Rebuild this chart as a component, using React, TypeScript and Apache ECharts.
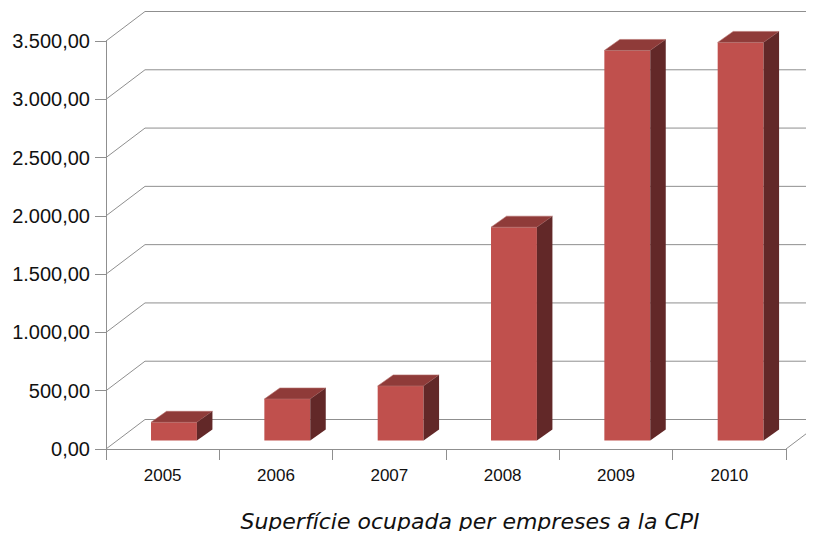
import React, { useEffect, useRef } from "react";
import * as echarts from "echarts";

const categories = ["2005", "2006", "2007", "2008", "2009", "2010"];
const values = [156, 356, 468, 1830, 3346, 3415];
const yTicks = [0, 500, 1000, 1500, 2000, 2500, 3000, 3500];
const titleText = "Superfície ocupada per empreses a la CPI";

const WALL_DX = 39;
const WALL_DY = 29.5;
const BAR_DX = 11.3;
const BAR_DY = 8.5;
const DEPTH_DX = 15.5;
const DEPTH_DY = 11;
const GRID_COLOR = "#8f8f8f";

function fmt(v: number): string {
  const s = Math.round(v).toString().replace(/\B(?=(\d{3})+(?!\d))/g, ".");
  return s + ",00";
}

export default function App() {
  const ref = useRef<HTMLDivElement>(null);
  useEffect(() => {
    if (!ref.current) return;
    const chart = echarts.init(ref.current, null, { renderer: "svg" });
    chart.setOption({
      animation: false,
      backgroundColor: "#ffffff",
      grid: { left: 106, right: 28, top: 41, bottom: 90 },
      xAxis: {
        type: "category",
        data: categories,
        axisLine: { show: true, lineStyle: { color: GRID_COLOR, width: 1 } },
        axisTick: { show: true, length: 11, lineStyle: { color: GRID_COLOR } },
        axisLabel: {
          color: "#111",
          fontSize: 17,
          fontFamily: "Liberation Sans",
          margin: 18,
        },
        splitLine: { show: false },
      },
      yAxis: {
        type: "value",
        min: 0,
        max: 3500,
        interval: 500,
        axisLine: { show: true, lineStyle: { color: GRID_COLOR, width: 1 } },
        axisTick: { show: true, length: 11, lineStyle: { color: GRID_COLOR } },
        axisLabel: {
          color: "#111",
          fontSize: 20,
          fontFamily: "Liberation Sans",
          margin: 16,
          formatter: (v: number) => fmt(v),
        },
        splitLine: { show: false },
      },
      title: {
        text: titleText,
        left: 470,
        textAlign: "center",
        top: 510,
        padding: 0,
        textStyle: {
          fontSize: 22,
          fontStyle: "italic",
          fontWeight: "normal",
          fontFamily: "DejaVu Sans",
          color: "#111",
        },
      },
      series: [
        {
          type: "custom",
          z: 1,
          silent: true,
          data: yTicks.map((t) => [0, t]),
          renderItem: (params: any, api: any) => {
            const cs = params.coordSys;
            const v = api.value(1);
            const y = api.coord([0, v])[1];
            const x0 = cs.x;
            const x1 = cs.x + cs.width;
            const children: any[] = [
              {
                type: "polyline",
                shape: {
                  points: [
                    [x0, y],
                    [x0 + WALL_DX, y - WALL_DY],
                    [x1 + WALL_DX, y - WALL_DY],
                  ],
                },
                style: { stroke: GRID_COLOR, fill: "none", lineWidth: 1 },
              },
            ];
            if (v === 0) {
              children.push({
                type: "line",
                shape: { x1: x1, y1: y, x2: x1 + WALL_DX, y2: y - WALL_DY },
                style: { stroke: GRID_COLOR, lineWidth: 1 },
              });
            }
            return { type: "group", children };
          },
        },
        {
          type: "custom",
          z: 2,
          data: values.map((v, i) => [i, v]),
          renderItem: (params: any, api: any) => {
            const idx = api.value(0);
            const val = api.value(1);
            const top = api.coord([idx, val]);
            const base = api.coord([idx, 0]);
            const band = api.size([1, 0])[0];
            const w = band * 0.405;
            const L = base[0] + BAR_DX - w / 2;
            const R = L + w;
            const T = top[1] - BAR_DY;
            const B = base[1] - BAR_DY;
            return {
              type: "group",
              children: [
                {
                  type: "rect",
                  shape: { x: L, y: T, width: w, height: B - T },
                  style: { fill: "#c0504d" },
                },
                {
                  type: "polygon",
                  shape: {
                    points: [
                      [L, T],
                      [L + DEPTH_DX, T - DEPTH_DY],
                      [R + DEPTH_DX, T - DEPTH_DY],
                      [R, T],
                    ],
                  },
                  style: { fill: "#8f3b39", stroke: "#b56e6c", lineWidth: 0.6 },
                },
                {
                  type: "polygon",
                  shape: {
                    points: [
                      [R, T],
                      [R + DEPTH_DX, T - DEPTH_DY],
                      [R + DEPTH_DX, B - DEPTH_DY],
                      [R, B],
                    ],
                  },
                  style: { fill: "#622828" },
                },
              ],
            };
          },
        },
      ],
    });
    return () => chart.dispose();
  }, []);
  return <div ref={ref} style={{ width: 814, height: 539, margin: -8 }} />;
}
